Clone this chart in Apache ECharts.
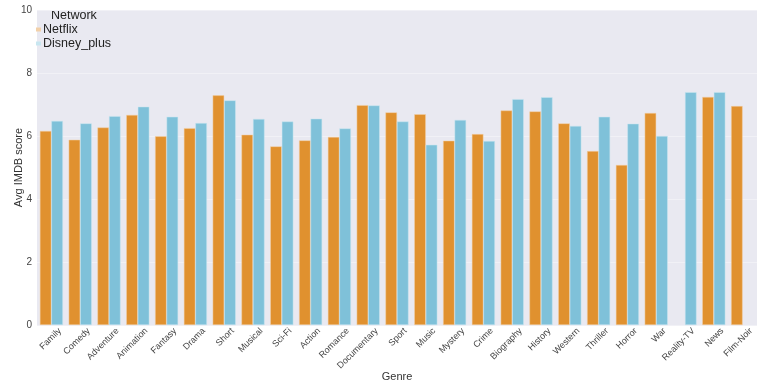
<!DOCTYPE html>
<html><head><meta charset="utf-8">
<script src="https://cdn.jsdelivr.net/npm/echarts@6/dist/echarts.min.js"></script>
<style>html,body{margin:0;padding:0;background:#fff}#c{width:768px;height:384px}</style>
</head><body><div id="c"></div>
<script>
const genres = ['Family','Comedy','Adventure','Animation','Fantasy','Drama','Short','Musical','Sci-Fi','Action','Romance','Documentary','Sport','Music','Mystery','Crime','Biography','History','Western','Thriller','Horror','War','Reality-TV','News','Film-Noir'];
const netflix = [6.16,5.88,6.27,6.67,5.99,6.25,7.29,6.04,5.67,5.86,5.97,6.98,6.75,6.69,5.85,6.06,6.81,6.78,6.40,5.52,5.08,6.73,null,7.24,6.95];
const disney = [6.48,6.40,6.63,6.93,6.61,6.41,7.13,6.54,6.46,6.55,6.24,6.97,6.46,5.72,6.51,5.84,7.17,7.23,6.32,6.61,6.39,6.00,7.39,7.39,null];
const yTicks = {min:0, max:10, interval:2};
const seriesNames = ['Netflix','Disney_plus'];

const chart = echarts.init(document.getElementById('c'), null, {renderer:'canvas'});
chart.setOption({
  animation:false,
  backgroundColor:'#ffffff',
  grid:{left:37,right:11,top:10,bottom:59,show:true,backgroundColor:'#E9E9F1',borderWidth:0,
        containLabel:false, outerBoundsMode:'none'},
  legend:{
    orient:'vertical', left:36, top:23, itemWidth:3, itemHeight:2, itemGap:1,
    icon:'rect', textStyle:{fontSize:12.5, color:'#222', padding:[0,0,0,-2], fontFamily:'Liberation Sans, Arial'},
    data:seriesNames, padding:0
  },
  graphic:[{type:'text', left:51, top:9, style:{text:'Network', fontSize:12.5, fill:'#222', fontFamily:'Liberation Sans, Arial'}}],
  xAxis:{
    type:'category', data:genres,
    name:'Genre', nameLocation:'middle', nameGap:46, nameMoveOverlap:false,
    nameTextStyle:{fontSize:11,color:'#333',fontFamily:'Liberation Sans, Arial'},
    axisLine:{show:false}, axisTick:{show:false},
    axisLabel:{rotate:45, fontSize:9, color:'#444', margin:13, padding:[0,-12,0,0], interval:0, fontFamily:'Liberation Sans, Arial'}
  },
  yAxis:{
    type:'value', min:yTicks.min, max:yTicks.max, interval:yTicks.interval,
    name:'Avg IMDB score', nameLocation:'middle', nameGap:13, nameMoveOverlap:false,
    nameTextStyle:{fontSize:11,color:'#333',fontFamily:'Liberation Sans, Arial'},
    axisLine:{show:false}, axisTick:{show:false},
    axisLabel:{fontSize:10,color:'#444',margin:5,fontFamily:'Liberation Sans, Arial'},
    splitLine:{lineStyle:{color:'#F1F1F6',width:1}}
  },
  series:[
    {name:seriesNames[0], type:'bar', data:netflix, barGap:'0%', barCategoryGap:'20%',
     itemStyle:{color:'#E0912F', borderColor:'#F2D0A8', borderWidth:0.5}},
    {name:seriesNames[1], type:'bar', data:disney,
     itemStyle:{color:'#7FC1D9', borderColor:'#C8E6F0', borderWidth:0.5}}
  ]
});
</script></body></html>
